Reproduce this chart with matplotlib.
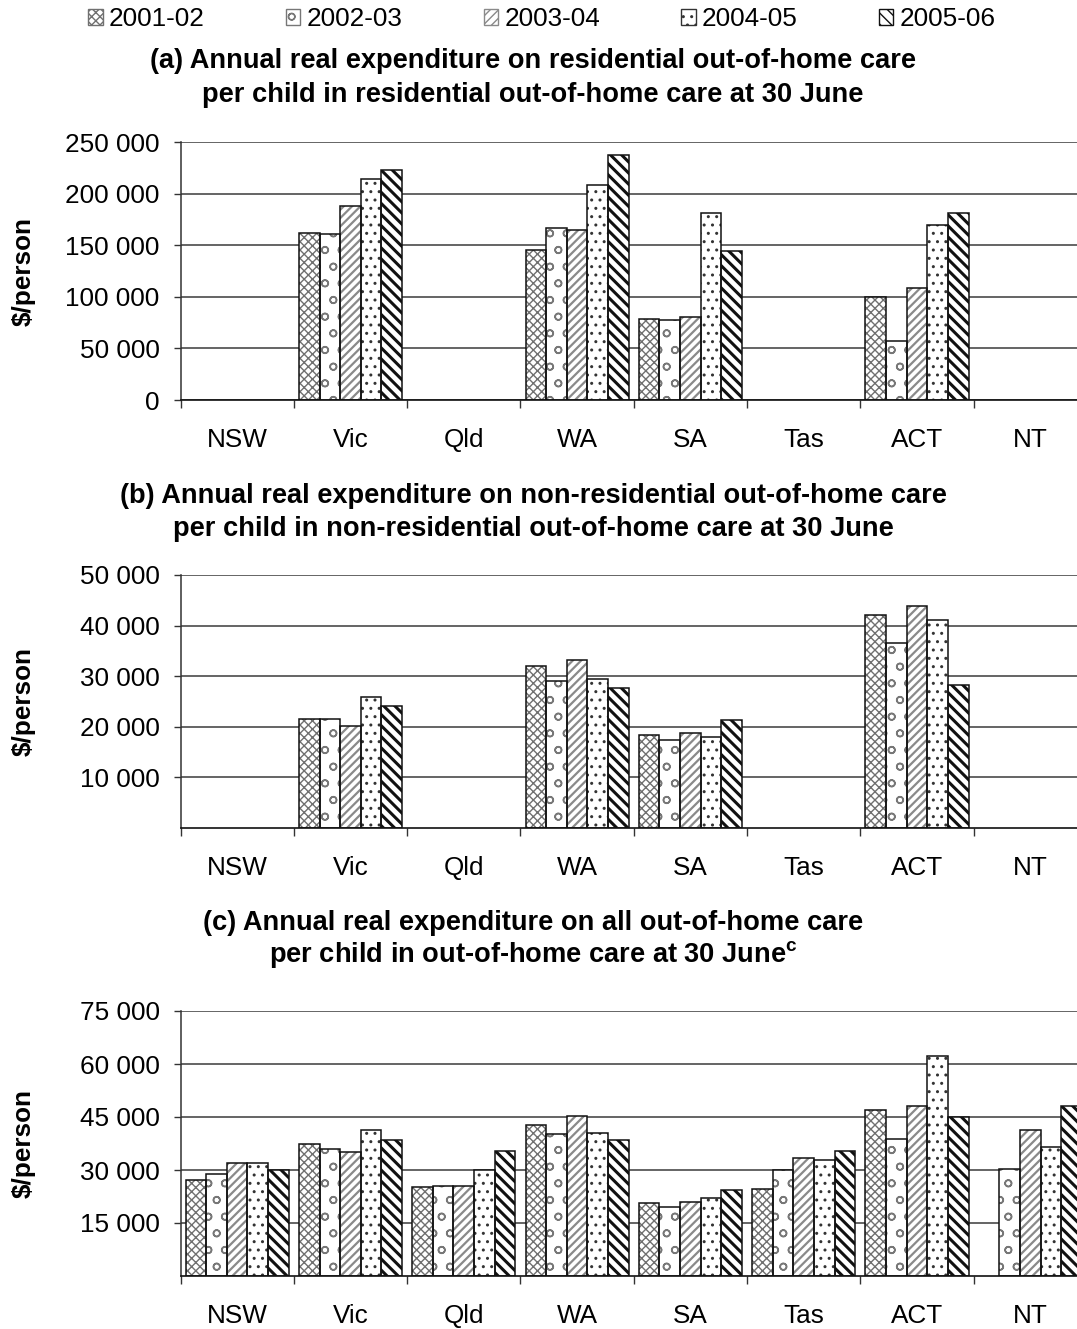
import numpy as np
import matplotlib
matplotlib.use("Agg")
import matplotlib.pyplot as plt
from matplotlib.patches import Rectangle
from matplotlib.ticker import FuncFormatter, FixedLocator

plt.rcParams["font.family"] = ["Liberation Sans", "DejaVu Sans"]
plt.rcParams["mathtext.fontset"] = "custom"
plt.rcParams["mathtext.rm"] = "Liberation Sans"
plt.rcParams["mathtext.bf"] = "Liberation Sans:bold"

nan = np.nan
states = ["NSW", "Vic", "Qld", "WA", "SA", "Tas", "ACT", "NT"]
years = ["2001-02", "2002-03", "2003-04", "2004-05", "2005-06"]

# (a) residential out-of-home care, $/person
res_0102 = [nan, 161500, nan, 145000, 78200, nan, 99800, nan]
res_0203 = [nan, 161000, nan, 166400, 77800, nan, 56900, nan]
res_0304 = [nan, 188300, nan, 164700, 80100, nan, 108500, nan]
res_0405 = [nan, 213900, nan, 208300, 180900, nan, 169300, nan]
res_0506 = [nan, 222600, nan, 237400, 144100, nan, 181200, nan]

# (b) non-residential out-of-home care, $/person
non_0102 = [nan, 21600, nan, 32000, 18300, nan, 42000, nan]
non_0203 = [nan, 21600, nan, 29100, 17300, nan, 36500, nan]
non_0304 = [nan, 20200, nan, 33300, 18700, nan, 43900, nan]
non_0405 = [nan, 25800, nan, 29500, 17900, nan, 41200, nan]
non_0506 = [nan, 24200, nan, 27700, 21300, nan, 28200, nan]

# (c) all out-of-home care, $/person
all_0102 = [27100, 37300, 25100, 42700, 20600, 24700, 47100, nan]
all_0203 = [28800, 36000, 25600, 40100, 19600, 30000, 38900, 30200]
all_0304 = [31900, 35000, 25600, 45400, 20900, 33300, 48200, 41200]
all_0405 = [31900, 41400, 29900, 40400, 22000, 32900, 62300, 36600]
all_0506 = [30000, 38600, 35300, 38600, 24300, 35300, 44900, 48200]

panels = [
    dict(series=[res_0102, res_0203, res_0304, res_0405, res_0506],
         ymax=250000, ticks=[0, 50000, 100000, 150000, 200000, 250000],
         title=["(a) Annual real expenditure on residential out-of-home care",
                "per child in residential out-of-home care at 30 June"]),
    dict(series=[non_0102, non_0203, non_0304, non_0405, non_0506],
         ymax=50000, ticks=[10000, 20000, 30000, 40000, 50000],
         title=["(b) Annual real expenditure on non-residential out-of-home care",
                "per child in non-residential out-of-home care at 30 June"]),
    dict(series=[all_0102, all_0203, all_0304, all_0405, all_0506],
         ymax=75000, ticks=[15000, 30000, 45000, 60000, 75000],
         title=["(c) Annual real expenditure on all out-of-home care",
                r"per child in out-of-home care at 30 June$^{\bf c}$"]),
]

# fill pattern, pattern colour and pattern line width for each year
styles = [
    dict(hatch="xxxx", color="#707070", lw=1.0),
    dict(hatch="o", color="#777777", lw=1.1),
    dict(hatch="////", color="#8a8a8a", lw=1.6),
    dict(hatch="..", color="#333333", lw=1.0),
    dict(hatch="\\\\\\", color="#111111", lw=2.2),
]

W, H = 1077, 1329
fig = plt.figure(figsize=(W / 100, H / 100), dpi=100)

x_left, x_right = 180.5, 1087.0
boxes = [(142, 400), (575, 828), (1011, 1276)]
title_y = [(61, 95), (496, 529), (923, 955)]
FS = 18.8
TFS = 19.6

def fmt(v, _pos):
    return f"{int(round(v)):,}".replace(",", " ")

x = np.arange(len(states))
bw = 0.182
for p, (top, bot), (t1, t2) in zip(panels, boxes, title_y):
    ax = fig.add_axes([x_left / W, 1 - bot / H, (x_right - x_left) / W, (bot - top) / H])
    ax.set_xlim(-0.5, len(states) - 0.5)
    ax.set_ylim(0, p["ymax"])
    for i, (vals, st) in enumerate(zip(p["series"], styles)):
        pos = x + (i - 2) * bw
        v = np.array(vals, dtype=float)
        with plt.rc_context({"hatch.linewidth": st["lw"]}):
            bars = ax.bar(pos, v, bw, color="white", edgecolor=st["color"],
                          hatch=st["hatch"], linewidth=0, zorder=2)
            for b in bars:
                if hasattr(b, "set_hatch_linewidth"):
                    b.set_hatch_linewidth(st["lw"])
        ax.bar(pos, v, bw, fill=False, edgecolor="#111111", linewidth=1.1, zorder=3)

    ax.yaxis.set_major_locator(FixedLocator(p["ticks"]))
    ax.yaxis.set_major_formatter(FuncFormatter(fmt))
    ax.grid(axis="y", color="#4a4a4a", linewidth=1.2, zorder=0)
    ax.set_axisbelow(True)
    ax.set_xticks(x)
    ax.set_xticklabels(states)
    ax.set_xticks(np.arange(len(states) + 1) - 0.5, minor=True)
    ax.tick_params(axis="x", which="major", length=0, pad=20, labelsize=FS)
    ax.tick_params(axis="x", which="minor", length=6, width=1.0, color="#333333")
    ax.tick_params(axis="y", length=5, width=1.0, pad=10, labelsize=FS, color="#333333")
    for s in ("top", "right"):
        ax.spines[s].set_visible(False)
    ax.spines["left"].set_color("#333333")
    ax.spines["bottom"].set_color("#111111")
    ax.spines["left"].set_linewidth(1.1)
    ax.spines["bottom"].set_linewidth(1.2)
    ax.set_ylabel("$/person", fontsize=FS, fontweight="bold")
    ax.yaxis.set_label_coords(-(x_left - 36) / (x_right - x_left), 0.5)

    fig.text(533 / W, 1 - t1 / H, p["title"][0], ha="center", va="center",
             fontsize=TFS, fontweight="bold")
    fig.text(533 / W, 1 - t2 / H, p["title"][1], ha="center", va="center",
             fontsize=TFS, fontweight="bold")

handles = []
for st in styles:
    with plt.rc_context({"hatch.linewidth": st["lw"]}):
        r = Rectangle((0, 0), 1, 1, facecolor="white", edgecolor=st["color"],
                      hatch=st["hatch"], linewidth=1.0)
        if hasattr(r, "set_hatch_linewidth"):
            r.set_hatch_linewidth(st["lw"])
    handles.append(r)
fig.legend(handles, years, loc="center", bbox_to_anchor=(542 / W, 1 - 19 / H),
           ncol=5, frameon=False, fontsize=FS, handlelength=0.55, handleheight=0.55,
           handletextpad=0.25, columnspacing=3.1, borderpad=0)

fig.savefig("out.png", dpi=100)
